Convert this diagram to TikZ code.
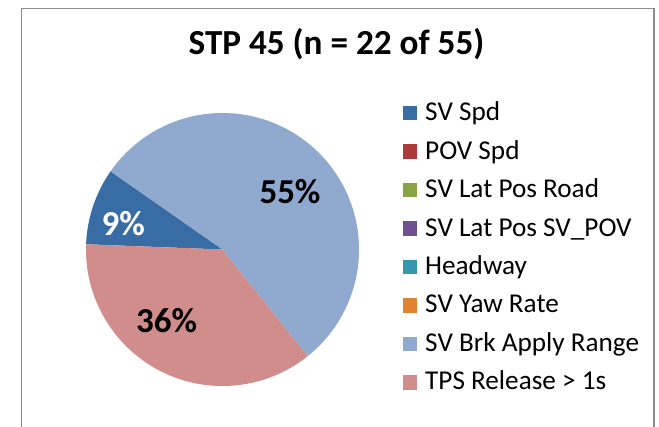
\documentclass[tikz,border=0pt]{standalone}
\usepackage{fontspec}
\setmainfont{Carlito}
\definecolor{cSVSpd}{HTML}{386CA4}
\definecolor{cPOV}{HTML}{AD3A38}
\definecolor{cLatRoad}{HTML}{88A343}
\definecolor{cLatSV}{HTML}{6F5090}
\definecolor{cHead}{HTML}{3497AE}
\definecolor{cYaw}{HTML}{E0822F}
\definecolor{cBrk}{HTML}{8FA9CF}
\definecolor{cTPS}{HTML}{D08D8B}
\definecolor{cFrame}{HTML}{8C8C8C}
\tikzset{
  legsq/.style={minimum size=14.5pt, inner sep=0pt, anchor=south west},
  legtxt/.style={anchor=base west, inner sep=0pt, font=\fontsize{27.2}{32}\selectfont},
  pct/.style={inner sep=0pt, font=\fontsize{35}{42}\selectfont\bfseries},
}
\begin{document}
\begin{tikzpicture}[x=1pt,y=1pt]
\useasboundingbox (0,0) rectangle (659,427);
\fill[white] (0,0) rectangle (659,427);
% frame
\draw[cFrame, line width=1.3pt] (21.7,-5) -- (21.7,418.7) -- (654,418.7) -- (654,-5);
% title
\node[anchor=base, inner sep=0pt, font=\fontsize{35.2}{42}\selectfont\bfseries] (title) at (336.5,372) {STP 45 (n = 22 of 55)};
% pie
\coordinate (c) at (222.5,177.5);
\def\R{136.5}
\fill[cSVSpd] (c) -- ++(145.07:\R) arc[start angle=145.07, end angle=177.8, radius=\R] -- cycle;
\fill[cTPS] (c) -- ++(177.8:\R) arc[start angle=177.8, end angle=308.7, radius=\R] -- cycle;
\fill[cBrk] (c) -- ++(308.7:\R) arc[start angle=308.7, end angle=505.07, radius=\R] -- cycle;
\node[pct, text=black] (l55) at (290,235.3) {55\%};
\node[pct, text=white] (l9) at (123.3,203.7) {9\%};
\node[pct, text=black] (l36) at (166.7,106.3) {36\%};
% legend
\foreach \i/\col/\txt in {0/cSVSpd/SV Spd, 1/cPOV/POV Spd, 2/cLatRoad/SV Lat Pos Road, 3/cLatSV/SV Lat Pos SV\_POV, 4/cHead/Headway, 5/cYaw/SV Yaw Rate, 6/cBrk/SV Brk Apply Range, 7/cTPS/TPS Release > 1s}{
  \node[legsq, fill=\col] (sq\i) at (402.7, {427-120.7-38.45*\i}) {};
  \node[legtxt] (lt\i) at (425, {427-120.7-38.45*\i}) {\txt};
}
\end{tikzpicture}
\end{document}
